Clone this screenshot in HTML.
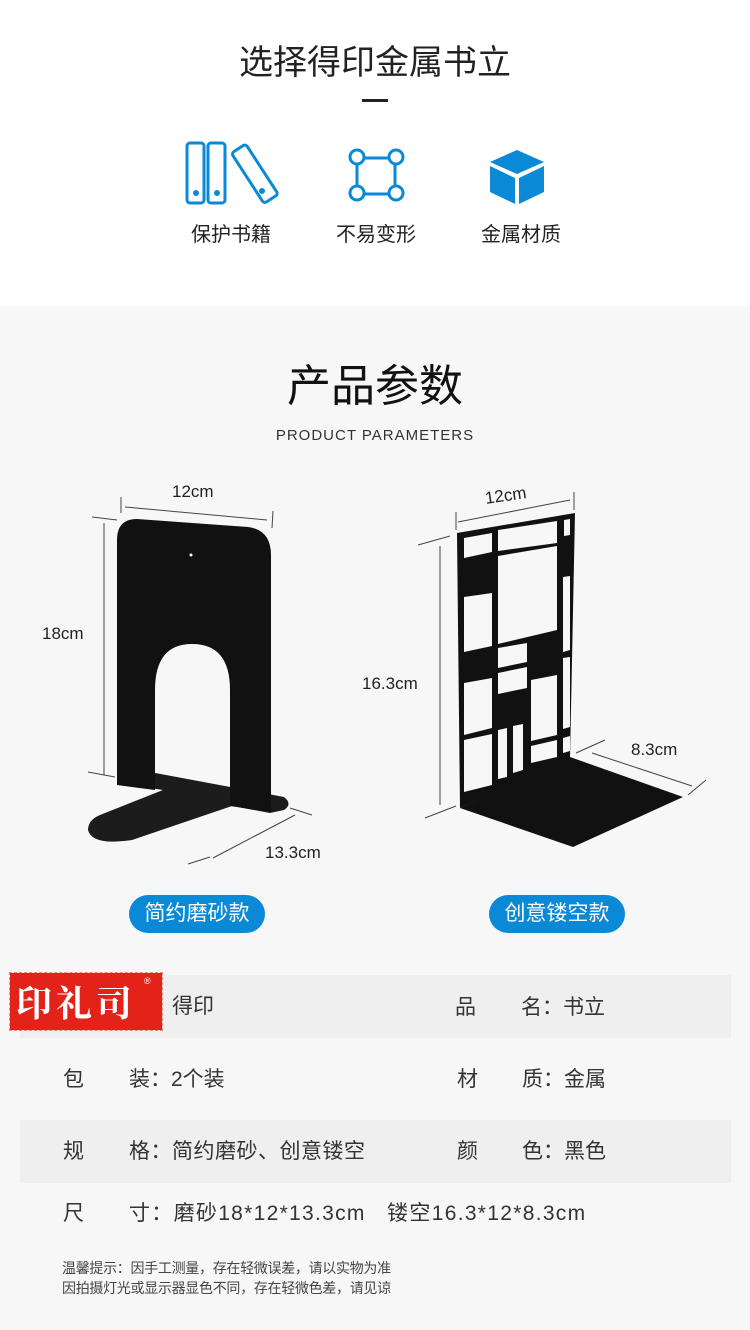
<!DOCTYPE html>
<html><head><meta charset="utf-8"><style>
*{margin:0;padding:0;box-sizing:border-box}
body{width:750px;height:1330px;background:#f7f7f7;position:relative;overflow:hidden;font-family:"Liberation Sans","Noto Sans CJK SC",sans-serif;color:#333}
.a{position:absolute;white-space:nowrap}
.t{font-size:21px;line-height:24px;color:#333}
.pill{position:absolute;height:38px;border-radius:19px;background:#0a8ad6;color:#fff;font-size:21px;line-height:38px;text-align:center}
.il{position:absolute;top:222px;font-size:20px;line-height:26px;color:#222;width:120px;text-align:center}
</style></head><body>
<div class="a" style="left:0;top:0;width:750px;height:306px;background:#fff"></div>
<div class="a" style="left:0;top:40px;width:750px;text-align:center;font-size:34px;line-height:46px;color:#222">选择得印金属书立</div>
<div class="a" style="left:362px;top:99px;width:26px;height:3px;background:#222"></div>
<div class="il" style="left:171px">保护书籍</div>
<div class="il" style="left:316px">不易变形</div>
<div class="il" style="left:461px">金属材质</div>

<svg class="a" style="left:0;top:0" width="750" height="1330">
<!-- icons -->
<g fill="none" stroke="#0a8ad6" stroke-width="3">
<rect x="187" y="143" width="17" height="60" rx="3"/>
<rect x="208" y="143" width="17" height="60" rx="3"/>
<g transform="rotate(-33 240 150)"><rect x="231" y="148" width="17" height="60" rx="3"/></g>
<rect x="357" y="158" width="38" height="36"/>
</g>
<g fill="#0a8ad6">
<circle cx="196" cy="193" r="3"/><circle cx="217" cy="193" r="3"/><circle cx="262" cy="191" r="3"/>
</g>
<g fill="#fff" stroke="#0a8ad6" stroke-width="3">
<circle cx="357" cy="157" r="7"/><circle cx="396" cy="157" r="7"/><circle cx="357" cy="193" r="7"/><circle cx="396" cy="193" r="7"/>
</g>
<g fill="#0a8ad6">
<polygon points="517,150 544,162 517,174 490,162"/>
<polygon points="490,166 515,178 515,204 490,192"/>
<polygon points="519,178 544,166 544,192 519,204"/>
</g>

<!-- dimension lines -->
<g stroke="#444" stroke-width="1" fill="none">
<line x1="125" y1="507" x2="267" y2="520"/><line x1="121" y1="497" x2="121" y2="513"/><line x1="273" y1="511" x2="272" y2="528"/>
<line x1="104" y1="523" x2="104" y2="775"/><line x1="92" y1="517" x2="117" y2="520"/><line x1="88" y1="772" x2="115" y2="777"/>
<line x1="213" y1="858" x2="295" y2="815"/><line x1="290" y1="808" x2="312" y2="815"/><line x1="188" y1="864" x2="210" y2="857"/>
<line x1="458" y1="522" x2="570" y2="500"/><line x1="456" y1="512" x2="456" y2="530"/><line x1="574" y1="492" x2="574" y2="510"/>
<line x1="440" y1="546" x2="440" y2="805"/><line x1="418" y1="545" x2="450" y2="536"/><line x1="425" y1="818" x2="456" y2="806"/>
<line x1="592" y1="753" x2="692" y2="786"/><line x1="576" y1="753" x2="605" y2="740"/><line x1="688" y1="795" x2="706" y2="780"/>
</g>

<!-- bookend 1 base (behind plate) -->
<path fill="#1c1c1c" d="M150,772 L284,797 Q293,804 284,810 L270,813 L232,806 L132,840 Q92,846 88,830 Q88,820 100,815 L163,790 L150,788 Z"/>
<!-- bookend 1 plate -->
<path fill="#111" d="M117,540 Q117,519 137,519 L248,527 Q271,530 271,555 L271,812 L230,806 L230,690 Q230,644 192,644 Q155,644 155,690 L155,790 L117,785 Z"/>
<circle cx="191" cy="555" r="1.5" fill="#fff"/>

<!-- bookend 2 -->
<polygon fill="#111" points="460,808 570,757 683,797 573,847"/>
<polygon fill="#111" points="457,533 575,513 570,758 460,808"/>
<g fill="#f7f7f7">
<polygon points="464,538 492,533 492,552 464,558"/>
<polygon points="498,530 557,521 557,543 498,551"/>
<polygon points="564,520 570,519 570,535 564,536"/>
<polygon points="498,556 557,546 557,630 498,644"/>
<polygon points="464,597 492,593 492,646 464,652"/>
<polygon points="563,577 570,576 570,650 563,652"/>
<polygon points="498,648 527,643 527,662 498,668"/>
<polygon points="498,673 527,667 527,688 498,694"/>
<polygon points="464,683 492,678 492,728 464,735"/>
<polygon points="531,680 557,675 557,735 531,741"/>
<polygon points="563,658 570,657 570,727 563,729"/>
<polygon points="464,740 492,734 492,785 464,792"/>
<polygon points="498,730 507,728 507,777 498,779"/>
<polygon points="513,726 523,724 523,770 513,773"/>
<polygon points="531,746 557,740 557,757 531,763"/>
<polygon points="563,738 570,736 570,751 563,753"/>
</g>
</svg>

<div class="a" style="left:0;top:362px;width:750px;text-align:center;font-size:44px;line-height:50px;color:#111">产品参数</div>
<div class="a" style="left:0;top:427px;width:750px;text-align:center;font-size:15px;letter-spacing:1px;color:#333">PRODUCT PARAMETERS</div>

<div class="a" style="left:172px;top:482px;font-size:17px;color:#222">12cm</div>
<div class="a" style="left:42px;top:624px;font-size:17px;color:#222">18cm</div>
<div class="a" style="left:265px;top:843px;font-size:17px;color:#222">13.3cm</div>
<div class="a" style="left:485px;top:486px;font-size:17px;color:#222;transform:rotate(-8deg)">12cm</div>
<div class="a" style="left:362px;top:674px;font-size:17px;color:#222">16.3cm</div>
<div class="a" style="left:631px;top:740px;font-size:17px;color:#222">8.3cm</div>

<div class="pill" style="left:129px;top:895px;width:136px">简约磨砂款</div>
<div class="pill" style="left:489px;top:895px;width:136px">创意镂空款</div>

<div class="a" style="left:20px;top:975px;width:711px;height:63px;background:#efefef"></div>
<div class="a" style="left:20px;top:1120px;width:711px;height:63px;background:#efefef"></div>

<div class="a" style="left:10px;top:973px;width:152px;height:57px;background:#e32219;outline:1px dashed #e88"></div>
<div class="a" style="left:16px;top:980px;font-size:36px;line-height:44px;color:#fff;font-family:'Noto Serif CJK SC',serif;font-weight:bold;letter-spacing:4px">印礼司</div>
<div class="a" style="left:144px;top:976px;font-size:9px;color:#fff">®</div>

<div class="a t" style="left:172px;top:995px">得印</div>
<div class="a t" style="left:455px;top:996px">品</div><div class="a t" style="left:521px;top:996px">名：书立</div>
<div class="a t" style="left:63px;top:1068px">包</div><div class="a t" style="left:129px;top:1068px">装：2个装</div>
<div class="a t" style="left:457px;top:1068px">材</div><div class="a t" style="left:522px;top:1068px">质：金属</div>
<div class="a t" style="left:63px;top:1140px">规</div><div class="a t" style="left:129px;top:1140px;letter-spacing:0.5px">格：简约磨砂、创意镂空</div>
<div class="a t" style="left:457px;top:1140px">颜</div><div class="a t" style="left:522px;top:1140px">色：黑色</div>
<div class="a t" style="left:63px;top:1202px">尺</div><div class="a t" style="left:129px;top:1202px;letter-spacing:1.3px">寸：磨砂18*12*13.3cm&nbsp;&nbsp;&nbsp;镂空16.3*12*8.3cm</div>

<div class="a" style="left:62px;top:1258px;font-size:14px;line-height:20px;color:#444;letter-spacing:-0.3px">温馨提示：因手工测量，存在轻微误差，请以实物为准<br>因拍摄灯光或显示器显色不同，存在轻微色差，请见谅</div>
</body></html>
